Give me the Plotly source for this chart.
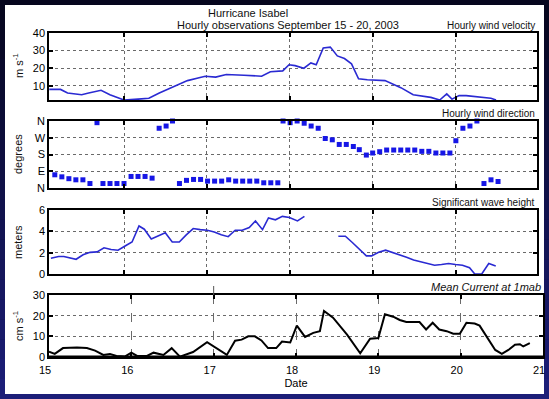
import plotly.graph_objects as go

# ---------------- data ----------------
wind_day = [15.098, 15.234, 15.319, 15.404, 15.489, 15.574, 15.638, 15.723, 15.83, 15.936,
            16.0, 16.17, 16.3, 16.426, 16.553, 16.681, 16.766, 16.894, 16.979, 17.106,
            17.234, 17.447, 17.66, 17.766, 17.915, 17.991, 18.064, 18.17, 18.255, 18.319,
            18.404, 18.489, 18.574, 18.66, 18.745, 18.83, 18.936, 19.149, 19.255, 19.34,
            19.489, 19.574, 19.702, 19.809, 19.894, 19.957, 20.043, 20.128, 20.298, 20.426, 20.489]
wind_speed = [8.0, 8.0, 6.0, 5.7, 5.0, 6.0, 6.5, 7.5, 5.0, 3.0,
              2.0, 2.5, 3.0, 6.0, 8.5, 11, 13, 14.5, 15.5, 15,
              16.5, 16, 15.5, 18, 18.5, 22, 21.5, 20, 23, 22,
              31.5, 32, 27, 25.5, 22.5, 14, 13.5, 13, 11, 9,
              5, 4.5, 3.5, 2, 5.5, 2.5, 4.5, 4.5, 3.7, 3, 2]

dir_day = [15.089, 15.165, 15.25, 15.335, 15.419, 15.504, 15.589, 15.674, 15.746, 15.831,
           15.915, 16.0, 16.085, 16.169, 16.254, 16.339, 16.424, 16.508, 16.585, 16.669,
           16.754, 16.839, 16.924, 17.008, 17.093, 17.178, 17.263, 17.347, 17.432, 17.517,
           17.602, 17.686, 17.771, 17.856, 17.919, 18.004, 18.089, 18.174, 18.258, 18.343,
           18.428, 18.513, 18.597, 18.682, 18.767, 18.839, 18.924, 19.0, 19.085, 19.169,
           19.254, 19.339, 19.424, 19.508, 19.593, 19.678, 19.763, 19.847, 19.932, 20.004,
           20.089, 20.174, 20.258, 20.343, 20.428, 20.513]
dir_deg = [90, 71, 60, 50, 44, 44, 24, 351, 24, 24,
           24, 24, 62, 62, 62, 53, 321, 333, 360, 24,
           41, 46, 46, 37, 37, 37, 44, 37, 37, 37,
           37, 28, 28, 28, 360, 351, 360, 348, 333, 321,
           266, 259, 234, 234, 223, 206, 177, 188, 195, 204,
           204, 204, 204, 204, 197, 197, 188, 188, 188, 254,
           321, 333, 360, 24, 44, 35]
dir_ticks = [0, 90, 180, 270, 360]
dir_labels = ["N", "E", "S", "W", "N"]

wave_day = [15.118, 15.211, 15.274, 15.359, 15.422, 15.506, 15.591, 15.675, 15.759, 15.844,
            15.928, 16.013, 16.097, 16.181, 16.245, 16.329, 16.414, 16.498, 16.582, 16.667,
            16.751, 16.835, 16.920, 17.004, 17.089, 17.173, 17.257, 17.342, 17.426, 17.511,
            17.586, 17.671, 17.743, 17.827, 17.911, 17.996, 18.093, 18.177, 18.40, 18.586,
            18.671, 18.755, 18.840, 18.924, 18.987, 19.072, 19.156, 19.241, 19.325, 19.409,
            19.494, 19.578, 19.662, 19.747, 19.831, 19.916, 20.0, 20.084, 20.169, 20.232,
            20.316, 20.401, 20.485]
wave_height = [1.48, 1.64, 1.64, 1.48, 1.38, 1.8, 2.03, 2.07, 2.46, 2.3,
               2.23, 2.62, 3.0, 4.5, 4.2, 3.28, 3.54, 3.87, 3.0, 3.0,
               3.67, 4.26, 4.16, 4.1, 3.93, 3.67, 3.5, 4.1, 4.1, 4.36,
               4.98, 4.16, 5.25, 5.08, 5.4, 5.3, 4.98, 5.4, None, 3.54,
               3.54, 2.95, 2.3, 1.7, 1.7, 2.03, 2.23, 2.03, 1.8, 1.57,
               1.31, 1.15, 0.98, 0.82, 0.89, 0.98, 0.89, 0.82, 0.59, 0.0,
               0.0, 0.98, 0.75]

cur_day = [15.0, 15.07, 15.17, 15.34, 15.46, 15.56, 15.66, 15.74, 15.82, 15.92,
           16.0, 16.07, 16.19, 16.27, 16.39, 16.49, 16.59, 16.75, 16.92, 17.0,
           17.16, 17.26, 17.34, 17.42, 17.5, 17.58, 17.66, 17.76, 17.83, 17.93,
           18.01, 18.11, 18.21, 18.29, 18.34, 18.45, 18.62, 18.78, 18.9, 19.0,
           19.08, 19.18, 19.26, 19.34, 19.5, 19.58, 19.66, 19.74, 19.83, 19.91,
           19.99, 20.07, 20.17, 20.23, 20.34, 20.42, 20.5, 20.58, 20.66, 20.72,
           20.76, 20.84]
cur_speed = [2.6, 1.5, 4.3, 4.6, 4.3, 3.1, 1.0, 1.5, 0.5, 0.2,
             2.1, 0.5, 0.5, 2.1, 1.0, 4.3, 0.2, 2.4, 7.2, 5.1,
             1.0, 7.9, 8.4, 10, 10, 8, 4.3, 4.3, 7.5, 7.0,
             15.2, 9.7, 11.7, 12.5, 22.3, 19, 10.8, 1.8, 8.8, 9.2,
             20.7, 19.5, 17.9, 16.9, 16.9, 13.3, 16.6, 13.3, 12.5, 11.3,
             11.3, 16.6, 16.2, 15.2, 8.4, 3.4, 1.5, 3.4, 5.9, 6.2,
             5.1, 6.7]

day_ticks_top = [16, 17, 18, 19, 20]
day_ticks_bottom = [15, 16, 17, 18, 19, 20, 21]

# ---------------- layout helpers ----------------
W, H = 549, 399
def fx(px):
    return px / W
def fy(py):
    return 1 - py / H

FONT = "Liberation Sans, Arial, sans-serif"
BLUE = "#2a2ad2"

fig = go.Figure()
fig.add_trace(go.Scatter(x=wind_day, y=wind_speed, mode="lines",
                         line=dict(color=BLUE, width=1.6), xaxis="x", yaxis="y"))
fig.add_trace(go.Scatter(x=dir_day, y=dir_deg, mode="markers",
                         marker=dict(symbol="square", size=5, color="#1616e6"),
                         cliponaxis=False, xaxis="x2", yaxis="y2"))
fig.add_trace(go.Scatter(x=wave_day, y=wave_height, mode="lines", connectgaps=False,
                         line=dict(color=BLUE, width=1.6), xaxis="x3", yaxis="y3"))
fig.add_trace(go.Scatter(x=cur_day, y=cur_speed, mode="lines",
                         line=dict(color="black", width=2), xaxis="x4", yaxis="y4"))

top_xrange = [15.095, 20.983]
xl, xr_top, xr_bot = 49, 537, 543
panels = [(33, 100), (121, 188), (210, 274), (295, 357)]

common_axis = dict(showline=True, linecolor="black", linewidth=1.5, mirror="ticks",
                   ticks="inside", ticklen=4, tickwidth=1.5, tickcolor="black",
                   showgrid=True, gridcolor="#6a6a6a", gridwidth=1, griddash="dot",
                   zeroline=False, automargin=False,
                   tickfont=dict(family=FONT, size=11, color="black"))

layout = dict(width=W, height=H, margin=dict(l=0, r=0, t=0, b=0, autoexpand=False),
              paper_bgcolor="#0c0c3c", plot_bgcolor="white", showlegend=False,
              font=dict(family=FONT, color="black"))

for i, (t, b) in enumerate(panels):
    n = "" if i == 0 else str(i + 1)
    if i < 3:
        xa = dict(common_axis, domain=[fx(xl), fx(xr_top)], range=top_xrange,
                  tickvals=day_ticks_top, showticklabels=False, anchor="y" + n)
    else:
        xa = dict(common_axis, domain=[fx(xl), fx(xr_bot)], range=[15, 21],
                  tickvals=day_ticks_bottom, showticklabels=True, anchor="y" + n,
                  griddash="dash", ticklabelstandoff=2, ticklabelshift=-4,
                  ticklabeloverflow="allow",
                  title=dict(text="Date", font=dict(family=FONT, size=11), standoff=4))
    layout["xaxis" + n] = xa
    ya = dict(common_axis, domain=[fy(b), fy(t)], anchor="x" + n)
    layout["yaxis" + n] = ya

layout["yaxis"].update(range=[2, 40], tickvals=[10, 20, 30, 40])
layout["yaxis2"].update(range=[0, 360], tickvals=dir_ticks, ticktext=dir_labels)
layout["yaxis3"].update(range=[0, 6.0], tickvals=[0, 2, 4, 6])
layout["yaxis4"].update(range=[0, 30], tickvals=[0, 10, 20, 30])

fig.update_layout(**layout)

# dark navy frame with a gentle vertical gradient (darker at top, bluer at bottom)
shapes = []
n_strips = 20
c_top = (6, 6, 30)
c_bot = (28, 30, 120)
for k in range(n_strips):
    f = k / (n_strips - 1)
    c = tuple(int(c_top[j] + (c_bot[j] - c_top[j]) * f) for j in range(3))
    shapes.append(dict(type="rect", xref="paper", yref="paper", x0=0, x1=1,
                       y0=1 - (k + 1) / n_strips, y1=1 - k / n_strips,
                       fillcolor="rgb(%d,%d,%d)" % c, line=dict(width=0), layer="below"))
shapes += [
    dict(type="rect", xref="paper", yref="paper", x0=fx(5), x1=fx(544), y0=fy(394), y1=fy(5),
         fillcolor="white", line=dict(width=0), layer="below"),
    dict(type="line", xref="paper", yref="paper", x0=fx(xl), x1=fx(xr_bot), y0=fy(357), y1=fy(357),
         line=dict(color="black", width=3)),
    dict(type="line", xref="x4", yref="paper", x0=17, x1=17, y0=fy(295), y1=fy(277),
         line=dict(color="#555", width=1, dash="dash")),
]
fig.update_layout(shapes=shapes)

def ann(text, x, y, size=11, xanchor="center", yanchor="middle", angle=0, italic=False, color="#111"):
    return dict(text=text, x=x, y=y, xref="paper", yref="paper", showarrow=False,
                xanchor=xanchor, yanchor=yanchor, textangle=angle,
                font=dict(family=FONT, size=size, color=color,
                          style="italic" if italic else "normal"))

anns = [
    ann("Hurricane Isabel", fx(248), fy(13), size=11),
    ann("Hourly observations September 15 - 20, 2003", fx(288), fy(25), size=11),
    ann("Hourly wind velocity", fx(537), fy(33), size=10, xanchor="right", yanchor="bottom"),
    ann("Hourly wind direction", fx(537), fy(121), size=10, xanchor="right", yanchor="bottom"),
    ann("Significant wave height", fx(537), fy(210), size=10, xanchor="right", yanchor="bottom"),
    ann("Mean Current at 1mab", fx(543), fy(295), size=11, xanchor="right", yanchor="bottom", italic=True),
    ann("m s<sup>-1</sup>", fx(18), fy(66), size=11, angle=-90),
    ann("degrees", fx(18), fy(154), size=11, angle=-90),
    ann("meters", fx(18), fy(242), size=11, angle=-90),
    ann("cm s<sup>-1</sup>", fx(18), fy(326), size=11, angle=-90),
]
fig.update_layout(annotations=anns)

fig.write_html("out.html")
